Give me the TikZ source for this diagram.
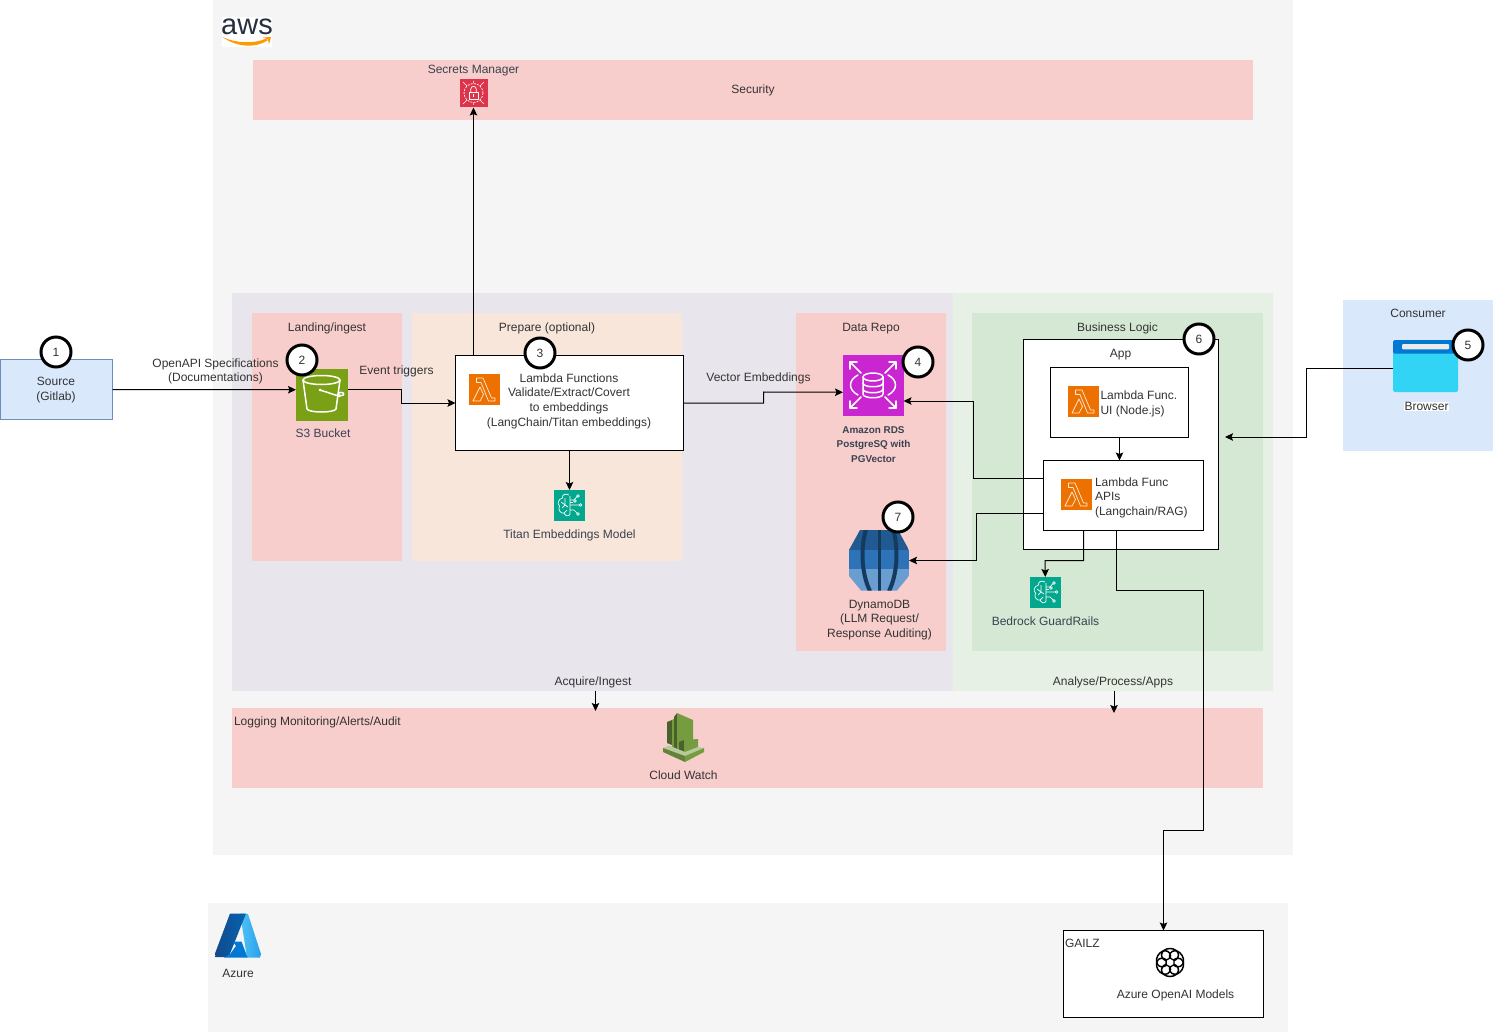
\documentclass[tikz,border=0pt]{standalone}
\usepackage{fontspec}
\setmainfont{Liberation Sans}
\usetikzlibrary{arrows.meta,calc,shadings}
\definecolor{pinkbg}{HTML}{F8CECC}
\definecolor{lbl}{HTML}{333333}
\definecolor{awslbl}{HTML}{3A4250}
\definecolor{acqbg}{HTML}{E9E5EC}
\definecolor{anabg}{HTML}{E7F0E4}
\definecolor{prepbg}{HTML}{F8E6DA}
\definecolor{busbg}{HTML}{D5E8D4}
\definecolor{bluebg}{HTML}{DAE8FC}
\definecolor{blueln}{HTML}{6C8EBF}
\definecolor{s3col}{HTML}{7AA116}
\definecolor{seccol}{HTML}{DD344C}
\definecolor{lamcol}{HTML}{ED7100}
\definecolor{mlcol}{HTML}{01A88D}
\definecolor{rdscol}{HTML}{C925D1}
\definecolor{awsink}{HTML}{252F3E}
\definecolor{awsorg}{HTML}{FF9900}
\definecolor{dyA}{HTML}{205A91}
\definecolor{dyB}{HTML}{2E73B8}
\definecolor{dyC}{HTML}{6A9DD0}
\definecolor{dyD}{HTML}{153A60}
\definecolor{brA}{HTML}{32D4F5}
\definecolor{brB}{HTML}{0078D4}
\definecolor{cwA}{HTML}{4B612C}
\definecolor{cwB}{HTML}{759C3E}
\definecolor{cwC}{HTML}{B7CA9D}
\definecolor{cwD}{HTML}{648339}
\definecolor{azA}{HTML}{114A8B}
\definecolor{azB}{HTML}{0563B1}
\definecolor{azC}{HTML}{50C3F5}
\definecolor{azD}{HTML}{28A0EB}
\tikzset{
  x=1pt,y=-1pt,
  boxn/.style={rectangle,inner sep=0pt,outer sep=0pt},
  panel/.style={boxn,fill=#1},
  whitebox/.style={boxn,fill=white,draw=black,line width=1pt},
  txt/.style={inner sep=0pt,outer sep=0pt,align=center,text=lbl,yshift=-1.5pt,font=\fontsize{12}{14.6}\selectfont},
  awstxt/.style={txt,text=awslbl},
  arr/.style={draw=black,line width=1pt,-{Stealth[length=8pt,width=7.5pt,inset=1.5pt]}},
  num/.style={circle,draw=black,fill=white,line width=3pt,minimum size=30pt,inner sep=0pt,outer sep=0pt,text=lbl,font=\fontsize{12}{14}\selectfont},
  glyph/.style={draw=white,line width=.7pt,line join=round,fill=none},
  glyphb/.style={draw=white,line width=1.5pt,line cap=round,line join=round,fill=none},
}
\newcommand{\boxat}[6]{%
  \pgfmathsetmacro\bwd{#4-#2}\pgfmathsetmacro\bht{#5-#3}%
  \node[#6,anchor=north west,minimum width=\bwd pt,minimum height=\bht pt] (#1) at (#2,#3) {};}
\newcommand{\lamglyph}[2]{%
  \begin{scope}[shift={(#1,#2)}]
   \draw[glyph,draw=white!85!orange] (7.5,4) -- (14,4) -- (22.5,24) -- (26,24) -- (26,27) -- (19.5,27) -- (12,8.5) -- (7.5,8.5) -- cycle;
   \draw[glyph,draw=white!85!orange] (4,27) -- (11,13) -- (14.5,20.5) -- (11,27) -- cycle;
  \end{scope}}
\newcommand{\brainglyph}[2]{%
  \begin{scope}[shift={(#1,#2)}]
   \draw[glyph] (15,5) .. controls (11,3) and (8,5) .. (8.5,8) .. controls (4,9) and (3,14) .. (5.5,16) .. controls (3.5,20) and (7,24) .. (10,23) .. controls (11,26) and (15,27) .. (16,24) -- (16,6);
   \draw[glyph] (7,12) -- (11,15) -- (8,18) (11,8) -- (11,15) -- (14,17) (10,23) -- (13,20);
   \draw[glyph] (16,15) -- (25,15) (16,10) -- (20,10) -- (23,6.5) (16,20) -- (20,20) -- (23,23) (16,12.5) -- (19,12.5);
   \foreach \p in {(24,6),(26.5,15),(24,24),(21,11)} \draw[glyph] \p circle (1.3);
  \end{scope}}
\begin{document}
\begin{tikzpicture}
\useasboundingbox (0,0) rectangle (1494,1032);
% panels
\boxat{awsp}{213}{0}{1293}{854.5}{panel=black!4}
\boxat{azurep}{208}{903}{1288}{1032}{panel=black!4}
\boxat{security}{253}{60.5}{1253}{120.5}{panel=pinkbg}
\boxat{acquire}{232}{293.5}{953}{690.5}{panel=acqbg}
\boxat{analyse}{953}{293.5}{1273}{690.5}{panel=anabg}
\boxat{landing}{252}{313.5}{402}{560.5}{panel=pinkbg}
\boxat{prepare}{412}{313.5}{682}{560.5}{panel=prepbg}
\boxat{datarepo}{796}{313.5}{946}{650.5}{panel=pinkbg}
\boxat{business}{972}{313.5}{1263}{650.5}{panel=busbg}
\boxat{consumer}{1343}{300.5}{1493}{450.5}{panel=bluebg}
\boxat{logging}{232}{707.5}{1263}{787.5}{panel=pinkbg}
% white boxes
\boxat{gailz}{1063.5}{930.5}{1263.5}{1017.5}{whitebox}
\boxat{source}{0.5}{359.5}{112.5}{419.5}{panel=bluebg,draw=blueln,line width=1pt}
\boxat{lam}{455.5}{355.5}{683.5}{450.5}{whitebox}
\boxat{app}{1023.5}{339.5}{1218.5}{549.5}{whitebox}
\boxat{ui}{1050.5}{367.5}{1188.5}{437.5}{whitebox}
\boxat{api}{1043.5}{460.5}{1203.5}{530.5}{whitebox}
% icon nodes
\boxat{s3}{296}{369}{347.5}{420.5}{panel=s3col}
\boxat{secrets}{460}{79}{487.5}{107.5}{panel=seccol}
\boxat{lamicon}{469}{374}{499.5}{404.5}{panel=lamcol}
\boxat{titan}{554}{490}{584.5}{520.5}{panel=mlcol}
\boxat{rds}{843}{355}{903.5}{415.5}{panel=rdscol}
\boxat{dynamo}{849}{530}{909}{590}{boxn}
\boxat{uiicon}{1068}{386}{1098.5}{416.5}{panel=lamcol}
\boxat{apiicon}{1061}{479}{1091.5}{509.5}{panel=lamcol}
\boxat{guard}{1030}{577}{1060.5}{607.5}{panel=mlcol}
\boxat{browser}{1393}{340}{1458}{392}{boxn}
\boxat{cloudw}{663}{713}{704}{762}{boxn}
\boxat{openai}{1155}{948}{1185}{977}{boxn}
\boxat{azureicon}{215}{913}{261}{958}{boxn}
\boxat{awslogo}{222}{17}{272}{47}{panel=white}
% connector elbows and free ends
\coordinate (e1) at (401.5,403);
\coordinate (e2) at (763.5,392);
\coordinate (e3) at (973.5,401);
\coordinate (e4) at (976.5,560.5);
\coordinate (e5) at (1045,560.5);
\coordinate (e6) at (1306,368.5);
\coordinate (e7) at (1306,437);
\coordinate (appin) at (1225,437);
\coordinate (acqend) at (595.5,711);
\coordinate (anaend) at (1114,713);
% connectors
\draw[arr] (source.east |- 0,389.5) -- ([yshift=5pt]s3.west);
\draw[arr] ([yshift=5pt]s3.east) -| (e1) -- (lam.west |- e1);
\draw[arr] ([xshift=18pt]lam.north west) -- ([xshift=18pt]lam.north west |- secrets.south);
\draw[arr] (lam.south) -- (lam.south |- titan.north);
\draw[arr] (lam.east) -| (e2) -- ([yshift=-7pt]rds.west);
\draw[arr] ([yshift=17pt]api.west) -| (e3) -- (rds.east |- e3);
\draw[arr] ([yshift=-18pt]api.west) -| (e4) -- (dynamo.east |- e4);
\draw[arr] (ui.south) -- (ui.south |- api.north);
\draw[arr] ([xshift=-40pt]api.south) |- (e5) -- (guard.north);
\coordinate (f1) at (1116.5,590.5);
\coordinate (f2) at (1203.5,830.5);
\coordinate (f3) at (1163.5,830.5);
\draw[arr] ([xshift=-7pt]api.south) -- (f1) -| (f2) -- (f3) -- (f3 |- gailz.north);
\draw[arr] (browser.west |- e6) -- (e6) -- (e7) -- (appin);
\draw[arr] (acquire.south -| acqend) -- (acqend);
\draw[arr] (analyse.south -| anaend) -- (anaend);
% AWS logo
\node[inner sep=0pt,text=awsink,font=\fontsize{29}{29}\selectfont] (awstext) at (247,27) {aws};
\fill[awsorg] (222.5,37) .. controls (236,47) and (255,48.5) .. (267.5,40.5) -- (266.5,38.5) .. controls (254,44) and (236,43.5) .. (222.5,37) -- cycle;
\fill[awsorg] (263,37.5) -- (271,37) -- (269,44.5) -- (268,39.5) -- cycle;
% secrets glyph
\begin{scope}[shift={(460,79)}]
 \draw[glyph,dash pattern=on 2pt off 1.2pt] (13.5,14) circle (9.5);
 \draw[glyph] (9,13) rectangle (18,20.5);
 \draw[glyph] (10.8,13) -- (10.8,10) .. controls (10.8,6.5) and (16.2,6.5) .. (16.2,10) -- (16.2,13);
 \draw[glyph] (13.5,15.5) -- (13.5,18);
 \draw[glyph,line width=.5pt] (3,3) -- (7,7) (24,3) -- (20,7) (3,25) -- (7,21) (24,25) -- (20,21) (13.5,2) -- (13.5,4) (13.5,24) -- (13.5,26);
\end{scope}
% S3 glyph
\begin{scope}[shift={(296,369)}]
 \draw[glyphb] (25.5,11) ellipse (18.5 and 4.5);
 \draw[glyphb] (7,11) -- (11,40) .. controls (13,44) and (38,44) .. (40,40) -- (44,11);
 \draw[glyphb] (24,21) -- (44,27.5);
 \draw[glyphb] (45,25) ellipse (2.8 and 1.6);
 \fill[white] (24,21) circle (1.5);
\end{scope}
\lamglyph{469}{374}
\lamglyph{1068}{386}
\lamglyph{1061}{479}
\brainglyph{554}{490}
\brainglyph{1030}{577}
% RDS glyph
\begin{scope}[shift={(843,355)}]
 \draw[glyphb] (7,7) -- (18,18) (7,53) -- (18,42) (53,7) -- (42,18) (53,53) -- (42,42);
 \draw[glyphb] (7,14) -- (7,7) -- (14,7) (46,7) -- (53,7) -- (53,14) (7,46) -- (7,53) -- (14,53) (46,53) -- (53,53) -- (53,46);
 \draw[glyphb] (20,22) -- (20,39) .. controls (20,44) and (40,44) .. (40,39) -- (40,22);
 \draw[glyphb] (30,22) ellipse (10 and 4);
 \draw[glyphb] (20,28) .. controls (20,33) and (40,33) .. (40,28) (20,34) .. controls (20,39) and (40,39) .. (40,34);
 \draw[glyphb] (15,20) .. controls (5,25) and (5,35) .. (15,40);
 \draw[glyphb] (45,20) .. controls (55,25) and (55,35) .. (45,40);
\end{scope}
% DynamoDB
\begin{scope}
 \clip (860,530) -- (898,530) -- (909,550) -- (909,576) -- (897,590.5) -- (861,590.5) -- (849,576) -- (849,550) -- cycle;
 \fill[dyA] (849,530) rectangle (909,550);
 \fill[dyB] (849,550) rectangle (909,569);
 \fill[dyC] (849,569) rectangle (909,591);
 \draw[dyD,line width=4pt] (866,529) .. controls (860,550) and (862,575) .. (870,591);
 \draw[dyD,line width=3.6pt] (879.5,529) -- (879.5,591);
 \draw[dyD,line width=4pt] (893,529) .. controls (899,550) and (897,575) .. (889,591);
\end{scope}
% Browser
\fill[brA,rounded corners=1.5pt] (1393,345) rectangle (1458,392);
\fill[brB,rounded corners=1.5pt] (1393,340) rectangle (1458,353.7);
\fill[black!8,rounded corners=1pt] (1402,344) rectangle (1449,349.3);
% CloudWatch
\fill[cwA] (667,722) -- (672,720) -- (672,745) -- (667,743) -- cycle;
\fill[cwB] (672,720) -- (677,717) -- (677,750) -- (672,748) -- cycle;
\fill[cwA] (674,717) -- (677,713) -- (677,750) -- (674,748) -- cycle;
\fill[cwB] (677,713) -- (693,720) -- (693,745) -- (677,752) -- cycle;
\fill[cwA] (679,742) -- (684,740) -- (684,752) -- (679,752) -- cycle;
\fill[cwB] (684,740) -- (698,739) -- (698,748) -- (684,753) -- cycle;
\fill[cwC] (663,748) -- (669,745.5) -- (685,752) -- (698,747) -- (704,748) -- (685,756) -- cycle;
\fill[cwD] (663,748) -- (685,756) -- (685,762) -- (663,752) -- cycle;
\fill[cwB] (704,748) -- (685,756) -- (685,762) -- (704,752) -- cycle;
% OpenAI knot
\begin{scope}[shift={(1170,962.5)}]
 \foreach \a in {0,60,120,180,240,300}
  \draw[black,line width=1.5pt,rotate=\a] (0,-7.5) ellipse (8.5 and 6.5);
 \draw[black,line width=1.3pt,fill=white] (0,-4.5) -- (3.9,-2.25) -- (3.9,2.25) -- (0,4.5) -- (-3.9,2.25) -- (-3.9,-2.25) -- cycle;
\end{scope}
% Azure logo
\shade[left color=azC,right color=azD] (240,913.5) -- (248,914) -- (261,954) -- (260,957.5) -- (247,957.5) -- cycle;
\shade[left color=azA,right color=azB] (230,913.5) -- (246,913.5) -- (229.5,955) -- (226,957) -- (215.5,957) -- (215,953.5) -- cycle;
\fill[brB] (233,941.5) -- (241.5,941.5) -- (247.5,957.5) -- (224,957.5) -- (229.5,955) -- (236,946) -- cycle;
% number circles
\node[num] (n1) at (56,352) {1};
\node[num] (n2) at (302,360) {2};
\node[num] (n3) at (540,353) {3};
\node[num] (n4) at (918,362) {4};
\node[num] (n5) at (1468,345) {5};
\node[num] (n6) at (1199,339) {6};
\node[num] (n7) at (898,517) {7};
% texts
\node[awstxt] (tsec) at (473.5,69.5) {Secrets Manager};
\node[txt] (tsecurity) at (753,88.5) {Security};
\node[txt] (tsource) at (56,388.5) {Source\\(Gitlab)};
\node[txt] (topenapi) at (215.5,370) {OpenAPI Specifications\\(Documentations)};
\node[txt] (tland) at (327,327) {Landing/ingest};
\node[txt] (tevent) at (396.5,369.5) {Event triggers};
\node[awstxt] (ts3) at (323,432) {S3 Bucket};
\node[txt] (tprep) at (547,327) {Prepare (optional)};
\node[txt] (tlam) at (569,399.5) {Lambda Functions\\Validate/Extract/Covert\\to embeddings\\(LangChain/Titan embeddings)};
\node[awstxt] (ttitan) at (569.5,533.5) {Titan Embeddings Model};
\node[txt] (tvec) at (758.5,377) {Vector Embeddings};
\node[txt] (trepo) at (871,327) {Data Repo};
\node[awstxt,font=\bfseries\fontsize{9.9}{14.6}\selectfont] (trds) at (873.5,443) {Amazon RDS\\PostgreSQ with\\PGVector};
\node[txt] (tdyn) at (879.5,618.5) {DynamoDB\\(LLM Request/\\Response Auditing)};
\node[txt] (tbus) at (1117.5,327) {Business Logic};
\node[txt] (tapp) at (1120.5,353) {App};
\node[txt,align=left,anchor=west] (tui) at (1100.5,402.5) {Lambda Func.\\UI (Node.js)};
\node[txt,align=left,anchor=west] (tapi) at (1095,496) {Lambda Func\\APIs\\(Langchain/RAG)};
\node[awstxt] (tguard) at (1045.5,620) {Bedrock GuardRails};
\node[txt] (tcons) at (1418,312) {Consumer};
\node[txt,fill=white,inner sep=.5pt] (tbrow) at (1426.5,405) {Browser};
\node[txt] (tacq) at (593,680.5) {Acquire/Ingest};
\node[txt] (tana) at (1113,680.5) {Analyse/Process/Apps};
\node[txt,anchor=west] (tlog) at (234,720.5) {Logging Monitoring/Alerts/Audit};
\node[txt] (tcw) at (683.5,774) {Cloud Watch};
\node[txt] (tazure) at (238,972) {Azure};
\node[txt,anchor=west] (tgail) at (1065,942) {GAILZ};
\node[txt] (topen) at (1175.5,993.5) {Azure OpenAI Models};
\end{tikzpicture}
\end{document}
